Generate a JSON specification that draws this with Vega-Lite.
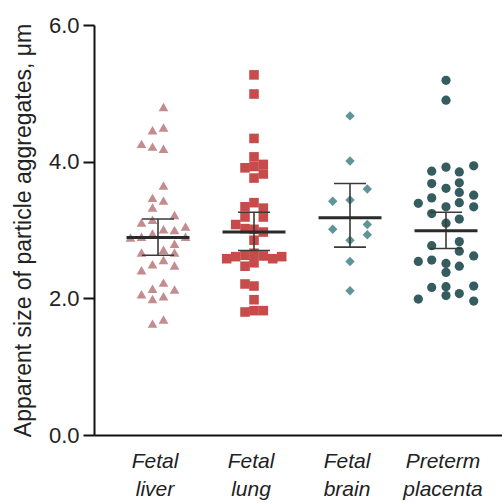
{
  "$schema": "https://vega.github.io/schema/vega-lite/v6.json",
  "width": 408,
  "height": 410,
  "autosize": "none",
  "padding": {"left": 94, "top": 25, "right": 0, "bottom": 68},
  "background": "white",
  "config": {
    "view": {"stroke": null},
    "font": "Liberation Sans",
    "axis": {"grid": false, "domainColor": "#111", "tickColor": "#111", "labelColor": "#222", "titleColor": "#222", "domainWidth": 2}
  },
  "datasets": {
    "pts": [
      {"tissue": "Fetal liver", "size": 4.80, "col": 0.55},
      {"tissue": "Fetal liver", "size": 4.46, "col": -0.55},
      {"tissue": "Fetal liver", "size": 4.50, "col": 0.55},
      {"tissue": "Fetal liver", "size": 4.26, "col": -1.65},
      {"tissue": "Fetal liver", "size": 4.22, "col": -0.55},
      {"tissue": "Fetal liver", "size": 4.19, "col": 0.55},
      {"tissue": "Fetal liver", "size": 3.65, "col": 0.55},
      {"tissue": "Fetal liver", "size": 3.47, "col": -0.55},
      {"tissue": "Fetal liver", "size": 3.43, "col": 0.55},
      {"tissue": "Fetal liver", "size": 3.33, "col": -0.55},
      {"tissue": "Fetal liver", "size": 3.22, "col": 1.65},
      {"tissue": "Fetal liver", "size": 3.11, "col": -1.65},
      {"tissue": "Fetal liver", "size": 3.15, "col": -0.55},
      {"tissue": "Fetal liver", "size": 3.01, "col": 0.55},
      {"tissue": "Fetal liver", "size": 3.00, "col": 1.65},
      {"tissue": "Fetal liver", "size": 3.05, "col": 2.75},
      {"tissue": "Fetal liver", "size": 2.95, "col": -0.55},
      {"tissue": "Fetal liver", "size": 2.89, "col": -2.75},
      {"tissue": "Fetal liver", "size": 2.90, "col": -1.65},
      {"tissue": "Fetal liver", "size": 2.90, "col": 2.75},
      {"tissue": "Fetal liver", "size": 2.80, "col": 1.65},
      {"tissue": "Fetal liver", "size": 2.67, "col": -1.65},
      {"tissue": "Fetal liver", "size": 2.71, "col": 0.55},
      {"tissue": "Fetal liver", "size": 2.67, "col": 1.65},
      {"tissue": "Fetal liver", "size": 2.50, "col": -0.55},
      {"tissue": "Fetal liver", "size": 2.56, "col": 0.55},
      {"tissue": "Fetal liver", "size": 2.48, "col": 1.65},
      {"tissue": "Fetal liver", "size": 2.41, "col": -1.65},
      {"tissue": "Fetal liver", "size": 2.23, "col": 0.55},
      {"tissue": "Fetal liver", "size": 2.06, "col": -1.65},
      {"tissue": "Fetal liver", "size": 2.14, "col": -0.55},
      {"tissue": "Fetal liver", "size": 2.13, "col": 1.65},
      {"tissue": "Fetal liver", "size": 1.99, "col": -0.55},
      {"tissue": "Fetal liver", "size": 2.03, "col": 0.55},
      {"tissue": "Fetal liver", "size": 1.63, "col": -0.55},
      {"tissue": "Fetal liver", "size": 1.69, "col": 0.55},

      {"tissue": "Fetal lung", "size": 5.27, "col": 0},
      {"tissue": "Fetal lung", "size": 4.99, "col": 0},
      {"tissue": "Fetal lung", "size": 4.34, "col": 0},
      {"tissue": "Fetal lung", "size": 4.07, "col": 0},
      {"tissue": "Fetal lung", "size": 3.91, "col": -0.9},
      {"tissue": "Fetal lung", "size": 3.93, "col": 0},
      {"tissue": "Fetal lung", "size": 3.96, "col": 0.93},
      {"tissue": "Fetal lung", "size": 3.82, "col": 0.93},
      {"tissue": "Fetal lung", "size": 3.76, "col": 0},
      {"tissue": "Fetal lung", "size": 3.40, "col": 0},
      {"tissue": "Fetal lung", "size": 3.34, "col": -0.9},
      {"tissue": "Fetal lung", "size": 3.32, "col": 0.93},
      {"tissue": "Fetal lung", "size": 3.19, "col": -0.9},
      {"tissue": "Fetal lung", "size": 3.19, "col": 0.93},
      {"tissue": "Fetal lung", "size": 3.08, "col": -1.83},
      {"tissue": "Fetal lung", "size": 3.02, "col": -0.9},
      {"tissue": "Fetal lung", "size": 3.01, "col": 0},
      {"tissue": "Fetal lung", "size": 2.97, "col": 0.93},
      {"tissue": "Fetal lung", "size": 2.85, "col": 0},
      {"tissue": "Fetal lung", "size": 2.63, "col": -0.9},
      {"tissue": "Fetal lung", "size": 2.61, "col": -1.83},
      {"tissue": "Fetal lung", "size": 2.58, "col": -2.73},
      {"tissue": "Fetal lung", "size": 2.66, "col": 0},
      {"tissue": "Fetal lung", "size": 2.62, "col": 0.93},
      {"tissue": "Fetal lung", "size": 2.58, "col": 1.87},
      {"tissue": "Fetal lung", "size": 2.61, "col": 2.77},
      {"tissue": "Fetal lung", "size": 2.47, "col": -0.9},
      {"tissue": "Fetal lung", "size": 2.52, "col": 0},
      {"tissue": "Fetal lung", "size": 2.21, "col": -0.9},
      {"tissue": "Fetal lung", "size": 2.18, "col": 0},
      {"tissue": "Fetal lung", "size": 1.98, "col": 0},
      {"tissue": "Fetal lung", "size": 1.80, "col": -0.9},
      {"tissue": "Fetal lung", "size": 1.82, "col": 0},
      {"tissue": "Fetal lung", "size": 1.82, "col": 0.93},

      {"tissue": "Fetal brain", "size": 4.67, "col": 0},
      {"tissue": "Fetal brain", "size": 4.01, "col": 0},
      {"tissue": "Fetal brain", "size": 3.60, "col": 1.73},
      {"tissue": "Fetal brain", "size": 3.42, "col": -1.73},
      {"tissue": "Fetal brain", "size": 3.44, "col": 0},
      {"tissue": "Fetal brain", "size": 3.01, "col": -1.73},
      {"tissue": "Fetal brain", "size": 3.08, "col": 1.73},
      {"tissue": "Fetal brain", "size": 2.93, "col": 1.73},
      {"tissue": "Fetal brain", "size": 2.85, "col": 0},
      {"tissue": "Fetal brain", "size": 2.54, "col": 0},
      {"tissue": "Fetal brain", "size": 2.11, "col": 0},

      {"tissue": "Preterm placenta", "size": 5.19, "col": 0},
      {"tissue": "Preterm placenta", "size": 4.90, "col": 0},
      {"tissue": "Preterm placenta", "size": 3.94, "col": 2.77},
      {"tissue": "Preterm placenta", "size": 3.86, "col": -1.43},
      {"tissue": "Preterm placenta", "size": 3.92, "col": 0},
      {"tissue": "Preterm placenta", "size": 3.85, "col": 1.33},
      {"tissue": "Preterm placenta", "size": 3.68, "col": -1.43},
      {"tissue": "Preterm placenta", "size": 3.69, "col": 1.33},
      {"tissue": "Preterm placenta", "size": 3.61, "col": 0},
      {"tissue": "Preterm placenta", "size": 3.55, "col": 1.33},
      {"tissue": "Preterm placenta", "size": 3.51, "col": 2.77},
      {"tissue": "Preterm placenta", "size": 3.39, "col": -2.77},
      {"tissue": "Preterm placenta", "size": 3.47, "col": -1.43},
      {"tissue": "Preterm placenta", "size": 3.34, "col": 0},
      {"tissue": "Preterm placenta", "size": 3.40, "col": 1.33},
      {"tissue": "Preterm placenta", "size": 3.34, "col": 2.77},
      {"tissue": "Preterm placenta", "size": 3.24, "col": -1.43},
      {"tissue": "Preterm placenta", "size": 3.16, "col": 1.33},
      {"tissue": "Preterm placenta", "size": 3.10, "col": 0},
      {"tissue": "Preterm placenta", "size": 2.77, "col": -1.43},
      {"tissue": "Preterm placenta", "size": 2.83, "col": 1.33},
      {"tissue": "Preterm placenta", "size": 2.69, "col": 1.33},
      {"tissue": "Preterm placenta", "size": 2.62, "col": 2.77},
      {"tissue": "Preterm placenta", "size": 2.54, "col": -2.77},
      {"tissue": "Preterm placenta", "size": 2.56, "col": -1.43},
      {"tissue": "Preterm placenta", "size": 2.51, "col": 0},
      {"tissue": "Preterm placenta", "size": 2.47, "col": 1.33},
      {"tissue": "Preterm placenta", "size": 2.38, "col": 0},
      {"tissue": "Preterm placenta", "size": 2.16, "col": -1.43},
      {"tissue": "Preterm placenta", "size": 2.17, "col": 0},
      {"tissue": "Preterm placenta", "size": 2.18, "col": 2.77},
      {"tissue": "Preterm placenta", "size": 2.04, "col": 0},
      {"tissue": "Preterm placenta", "size": 2.07, "col": 1.33},
      {"tissue": "Preterm placenta", "size": 1.99, "col": -2.77},
      {"tissue": "Preterm placenta", "size": 1.96, "col": 2.77}
    ],
    "summary": [
      {"tissue": "Fetal liver", "mean": 2.89, "lo": 2.63, "hi": 3.16},
      {"tissue": "Fetal lung", "mean": 2.97, "lo": 2.70, "hi": 3.26},
      {"tissue": "Fetal brain", "mean": 3.18, "lo": 2.75, "hi": 3.68},
      {"tissue": "Preterm placenta", "mean": 2.99, "lo": 2.73, "hi": 3.26}
    ]
  },
  "encoding": {
    "x": {
      "field": "tissue", "type": "nominal",
      "sort": ["Fetal liver", "Fetal lung", "Fetal brain", "Preterm placenta"],
      "scale": {"type": "band", "range": [0, 408], "paddingInner": 0, "paddingOuter": 0.125, "align": 0.667},
      "axis": {
        "title": null, "ticks": false, "labelAngle": 0,
        "labelExpr": "split(datum.label, ' ')",
        "labelFontSize": 21, "labelFontStyle": "italic", "labelLineHeight": 28,
        "labelPadding": 15, "labelOffset": -3, "domainWidth": 2
      }
    }
  },
  "layer": [
    {
      "data": {"name": "pts"},
      "mark": {"type": "point", "filled": true, "opacity": 1, "strokeWidth": 0},
      "encoding": {
        "xOffset": {"field": "col", "type": "quantitative", "scale": {"domain": [-4.8, 4.8]}},
        "y": {
          "field": "size", "type": "quantitative",
          "scale": {"domain": [0, 6], "nice": false, "zero": true},
          "axis": {
            "title": "Apparent size of particle aggregates, μm",
            "titleFontSize": 23, "titleFontWeight": "normal", "titlePadding": 13,
            "values": [0, 2, 4, 6], "format": ".1f",
            "labelFontSize": 22, "tickSize": 11, "tickWidth": 2, "labelPadding": 4
          }
        },
        "color": {
          "field": "tissue", "type": "nominal", "legend": null,
          "scale": {"domain": ["Fetal liver", "Fetal lung", "Fetal brain", "Preterm placenta"],
                    "range": ["#c38c8f", "#c84b4b", "#5f9598", "#355c5e"]}
        },
        "shape": {
          "field": "tissue", "type": "nominal", "legend": null,
          "scale": {"domain": ["Fetal liver", "Fetal lung", "Fetal brain", "Preterm placenta"],
                    "range": ["triangle-up", "square", "diamond", "circle"]}
        },
        "size": {
          "field": "tissue", "type": "nominal", "legend": null,
          "scale": {"domain": ["Fetal liver", "Fetal lung", "Fetal brain", "Preterm placenta"],
                    "range": [95, 85, 65, 80]}
        }
      }
    },
    {
      "data": {"name": "summary"},
      "mark": {"type": "rule", "color": "#3a3a3a", "strokeWidth": 1.6},
      "encoding": {
        "y": {"field": "lo", "type": "quantitative"},
        "y2": {"field": "hi"}
      }
    },
    {
      "data": {"name": "summary"},
      "mark": {"type": "tick", "color": "#3a3a3a", "thickness": 1.6, "size": 32, "opacity": 1},
      "encoding": {"y": {"field": "lo", "type": "quantitative"}}
    },
    {
      "data": {"name": "summary"},
      "mark": {"type": "tick", "color": "#3a3a3a", "thickness": 1.6, "size": 32, "opacity": 1},
      "encoding": {"y": {"field": "hi", "type": "quantitative"}}
    },
    {
      "data": {"name": "summary"},
      "mark": {"type": "tick", "color": "#2a2a2a", "thickness": 3, "size": 63, "opacity": 1},
      "encoding": {"y": {"field": "mean", "type": "quantitative"}}
    }
  ]
}
